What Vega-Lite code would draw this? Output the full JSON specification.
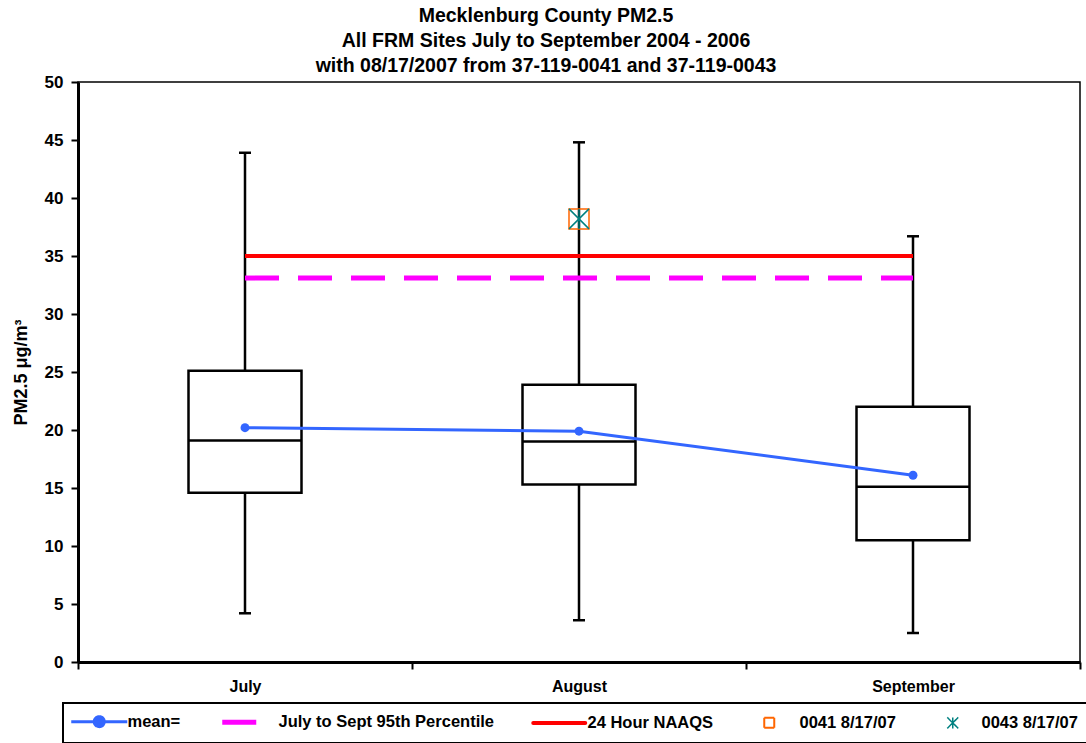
{
  "$schema": "https://vega.github.io/schema/vega-lite/v6.json",
  "width": 1002,
  "height": 580,
  "autosize": {"type": "none"},
  "padding": {"left": 78, "top": 82, "right": 6, "bottom": 81},
  "background": "white",
  "config": {
    "view": {"stroke": "black", "strokeWidth": 1.5},
    "font": "Liberation Sans",
    "axis": {"grid": false, "domainColor": "black", "tickColor": "black", "labelColor": "black", "titleColor": "black"},
    "legend": {
      "orient": "none", "legendX": -15, "legendY": 621, "direction": "horizontal", "columns": 5,
      "strokeColor": "black", "padding": 10, "columnPadding": 31, "symbolSize": 400, "labelOffset": 38, "labelLimit": 400,
      "labelFontSize": 16.5, "labelFontWeight": "bold", "labelColor": "black", "labelFont": "Liberation Sans"
    }
  },
  "title": {
    "text": ["Mecklenburg County PM2.5", "All FRM Sites July to September 2004 - 2006", "with 08/17/2007 from 37-119-0041 and 37-119-0043"],
    "fontSize": 19.5, "fontWeight": "bold", "font": "Liberation Sans", "color": "black",
    "anchor": "middle", "frame": "group", "dx": -33, "offset": -3, "lineHeight": 25
  },
  "datasets": {
    "boxes": [
      {"month": "July", "min": 4.2, "q1": 14.6, "median": 19.1, "q3": 25.1, "max": 43.9},
      {"month": "August", "min": 3.6, "q1": 15.3, "median": 19.0, "q3": 23.9, "max": 44.8},
      {"month": "September", "min": 2.5, "q1": 10.5, "median": 15.1, "q3": 22.0, "max": 36.7}
    ],
    "means": [
      {"series": "mean=", "month": "July", "value": 20.2},
      {"series": "mean=", "month": "August", "value": 19.9},
      {"series": "mean=", "month": "September", "value": 16.1}
    ],
    "pct": [
      {"series": "July to Sept 95th Percentile", "month": "July", "value": 33.1},
      {"series": "July to Sept 95th Percentile", "month": "September", "value": 33.1}
    ],
    "naaqs": [
      {"series": "24 Hour NAAQS", "month": "July", "value": 35.0},
      {"series": "24 Hour NAAQS", "month": "September", "value": 35.0}
    ],
    "markers": [
      {"series": "0041 8/17/07", "month": "August", "value": 38.2},
      {"series": "0043 8/17/07", "month": "August", "value": 38.2}
    ]
  },
  "encoding": {
    "x": {
      "field": "month", "type": "nominal",
      "scale": {"type": "band", "domain": ["July", "August", "September"], "paddingInner": 0, "paddingOuter": 0},
      "axis": {
        "title": null, "labelAngle": 0, "labelFontSize": 16, "labelFontWeight": "bold", "labelFont": "Liberation Sans",
        "tickBand": "extent", "tickSize": 7, "tickWidth": 2, "domainWidth": 3, "labelPadding": 9
      }
    }
  },
  "layer": [
    {
      "data": {"name": "boxes"},
      "mark": {"type": "rule", "color": "black", "strokeWidth": 2.5},
      "encoding": {
        "y": {"field": "min", "type": "quantitative", "scale": {"domain": [0, 50], "nice": false},
          "axis": {"values": [0, 5, 10, 15, 20, 25, 30, 35, 40, 45, 50], "title": "PM2.5 μg/m³", "titleFontSize": 18, "titleFontWeight": "bold",
            "titlePadding": 14, "labelFontSize": 17, "labelFontWeight": "bold", "tickSize": 7, "tickWidth": 2, "domainWidth": 3, "labelPadding": 8}},
        "y2": {"field": "max"}
      }
    },
    {
      "data": {"name": "boxes"},
      "mark": {"type": "tick", "color": "black", "size": 12, "thickness": 2.5, "opacity": 1},
      "encoding": {"y": {"field": "min", "type": "quantitative"}}
    },
    {
      "data": {"name": "boxes"},
      "mark": {"type": "tick", "color": "black", "size": 12, "thickness": 2.5, "opacity": 1},
      "encoding": {"y": {"field": "max", "type": "quantitative"}}
    },
    {
      "data": {"name": "boxes"},
      "mark": {"type": "bar", "fill": "white", "stroke": "black", "strokeWidth": 2.5, "width": 113},
      "encoding": {"y": {"field": "q1", "type": "quantitative"}, "y2": {"field": "q3"}}
    },
    {
      "data": {"name": "boxes"},
      "mark": {"type": "tick", "color": "black", "size": 113, "thickness": 2.5, "opacity": 1},
      "encoding": {"y": {"field": "median", "type": "quantitative"}}
    },
    {
      "data": {"name": "pct"},
      "mark": {"type": "line", "strokeWidth": 5, "strokeDash": [34, 19]},
      "encoding": {
        "y": {"field": "value", "type": "quantitative"},
        "color": {
          "field": "series", "type": "nominal",
          "scale": {
            "domain": ["mean=", "July to Sept 95th Percentile", "24 Hour NAAQS", "0041 8/17/07", "0043 8/17/07"],
            "range": ["#3366FF", "#FF00FF", "#FF0000", "#FF6600", "#008080"]
          },
          "legend": {
            "title": null,
            "encode": {
              "legend": {"update": {"strokeWidth": {"value": 2}}},
              "symbols": {
                "update": {
                  "shape": {"signal": "datum.value === 'mean=' ? 'M-1,0H4.6M2.3,0A0.5,0.5 0 1,1 1.3,0A0.5,0.5 0 1,1 2.3,0' : datum.value === 'July to Sept 95th Percentile' ? 'M-1,0H2.4' : datum.value === '24 Hour NAAQS' ? 'M-0.8,0H4.4' : datum.value === '0041 8/17/07' ? 'M1.1,-0.5H2.1V0.5H1.1Z' : 'M1.2,-0.55L2.3,0.55M1.2,0.55L2.3,-0.55M1.75,-0.55V0.55'"},
                  "size": {"value": 400},
                  "stroke": {"signal": "scale('color', datum.value)"},
                  "fill": {"signal": "datum.value === 'mean=' ? '#3366FF' : 'white'"},
                  "fillOpacity": {"signal": "datum.value === 'mean=' ? 1 : 0"},
                  "strokeWidth": {"signal": "datum.value === 'mean=' ? 3 : datum.value === 'July to Sept 95th Percentile' ? 5 : datum.value === '24 Hour NAAQS' ? 4 : datum.value === '0041 8/17/07' ? 2 : 1.5"},
                  "strokeCap": {"signal": "datum.value === '24 Hour NAAQS' ? 'round' : 'butt'"},
                  "strokeDash": {"value": [1, 0]},
                  "opacity": {"value": 1}
                }
              }
            }
          }
        }
      }
    },
    {
      "data": {"name": "naaqs"},
      "mark": {"type": "line", "strokeWidth": 4},
      "encoding": {"y": {"field": "value", "type": "quantitative"}, "color": {"field": "series", "type": "nominal"}}
    },
    {
      "data": {"name": "means"},
      "mark": {"type": "line", "strokeWidth": 3, "point": {"filled": true, "size": 80}},
      "encoding": {"y": {"field": "value", "type": "quantitative"}, "color": {"field": "series", "type": "nominal"}}
    },
    {
      "data": {"name": "markers"},
      "mark": {"type": "point", "filled": false, "size": 400, "strokeWidth": 1.5, "opacity": 1},
      "encoding": {
        "y": {"field": "value", "type": "quantitative"},
        "color": {"field": "series", "type": "nominal"},
        "shape": {
          "field": "series", "type": "nominal",
          "scale": {"domain": ["0041 8/17/07", "0043 8/17/07"], "range": ["square", "M-1,-1L1,1M-1,1L1,-1M0,-1L0,1"]},
          "legend": null
        }
      }
    }
  ]
}
